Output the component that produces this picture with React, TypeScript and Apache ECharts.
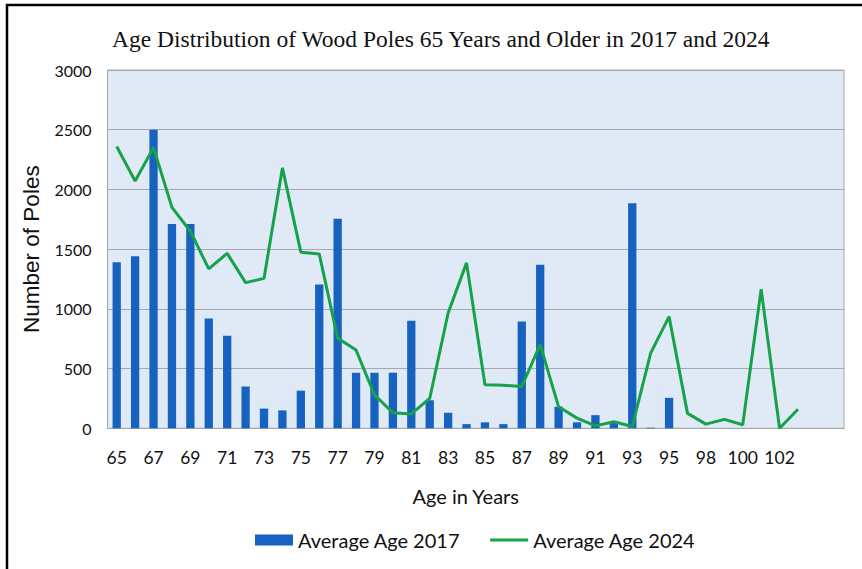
import React, { useEffect, useRef } from "react";
import * as echarts from "echarts";

const ages: string[] = [
  "65", "66", "67", "68", "69", "70", "71", "72", "73", "74",
  "75", "76", "77", "78", "79", "80", "81", "82", "83", "84",
  "85", "86", "87", "88", "89", "90", "91", "92", "93", "94",
  "95", "96", "98", "99", "100", "101", "102", "103", " ", "  ",
];

const avg2017: (number | null)[] = [
  1390, 1440, 2500, 1710, 1710, 920, 775, 350, 165, 150,
  315, 1205, 1755, 465, 465, 465, 900, 235, 130, 35,
  50, 35, 895, 1370, 180, 50, 110, 45, 1885, 5,
  255, null, null, null, null, null, null, null, null, null,
];

const avg2024: (number | null)[] = [
  2360, 2070, 2350, 1850, 1650, 1335, 1465, 1220, 1255, 2180,
  1475, 1460, 755, 655, 280, 130, 120, 250, 965, 1385,
  365, 360, 350, 700, 180, 85, 20, 55, 15, 630,
  935, 125, 35, 75, 30, 1165, 0, 160, null, null,
];

const yTicks = { min: 0, max: 3000, interval: 500 };

export default function App() {
  const ref = useRef<HTMLDivElement>(null);
  useEffect(() => {
    document.body.style.margin = "0";
    if (!ref.current) return;
    const chart = echarts.init(ref.current, undefined, { renderer: "svg" });
    chart.setOption({
      animation: false,
      backgroundColor: "#ffffff",
      title: {
        text: "Age Distribution of Wood Poles 65 Years and Older in 2017 and 2024",
        left: 112,
        top: 27,
        padding: 0,
        textStyle: {
          fontFamily: "Liberation Serif",
          fontSize: 23.5,
          fontWeight: "normal",
          color: "#111",
        },
      },
      graphic: [
        {
          type: "rect",
          shape: { x: 7, y: 5, width: 900, height: 620 },
          style: { fill: "none", stroke: "#000", lineWidth: 2.5 },
          silent: true,
          z: 100,
        },
      ],
      legend: {
        data: [
          { name: "Average Age 2017", icon: "rect" },
          { name: "Average Age 2024", icon: "path://M0,0 h40 v3 h-40 z" },
        ],
        left: 255,
        top: 530,
        padding: 0,
        itemWidth: 38,
        itemHeight: 11,
        itemGap: 30,
        textStyle: { fontFamily: "Lato", fontSize: 20, color: "#111" },
      },
      grid: {
        left: 107.5,
        right: 18,
        top: 70,
        bottom: 140.7,
        show: true,
        backgroundColor: "#dfeaf6",
        borderColor: "#a6a6a6",
        borderWidth: 1,
      },
      xAxis: {
        type: "category",
        data: ages,
        boundaryGap: true,
        name: "Age in Years",
        nameLocation: "middle",
        nameGap: 58,
        nameTextStyle: {
          fontFamily: "Lato",
          fontSize: 20,
          color: "#111",
          padding: [0, 20, 0, 0],
        },
        axisLine: { show: true, lineStyle: { color: "#a6a6a6" } },
        axisTick: { show: false },
        axisLabel: {
          interval: 1,
          margin: 20,
          fontFamily: "Lato",
          fontSize: 17.5,
          color: "#111",
        },
      },
      yAxis: {
        type: "value",
        min: yTicks.min,
        max: yTicks.max,
        interval: yTicks.interval,
        name: "Number of Poles",
        nameLocation: "middle",
        nameGap: 62,
        nameTextStyle: {
          fontFamily: "Liberation Sans",
          fontSize: 22.5,
          color: "#111",
        },
        axisLine: { show: false },
        axisTick: { show: false },
        axisLabel: {
          margin: 16,
          fontFamily: "Lato",
          fontSize: 16,
          color: "#111",
          formatter: (v: number) => String(v),
        },
        splitLine: { show: true, lineStyle: { color: "#a3a9b0", width: 1 } },
      },
      series: [
        {
          name: "Average Age 2017",
          type: "bar",
          data: avg2017,
          barWidth: "45%",
          itemStyle: { color: "#1862bf" },
        },
        {
          name: "Average Age 2024",
          type: "line",
          data: avg2024,
          symbol: "none",
          showSymbol: false,
          connectNulls: false,
          lineStyle: { color: "#16a24a", width: 3 },
          itemStyle: { color: "#16a24a" },
        },
      ],
    });
    return () => chart.dispose();
  }, []);
  return <div ref={ref} style={{ width: 862, height: 569 }} />;
}
